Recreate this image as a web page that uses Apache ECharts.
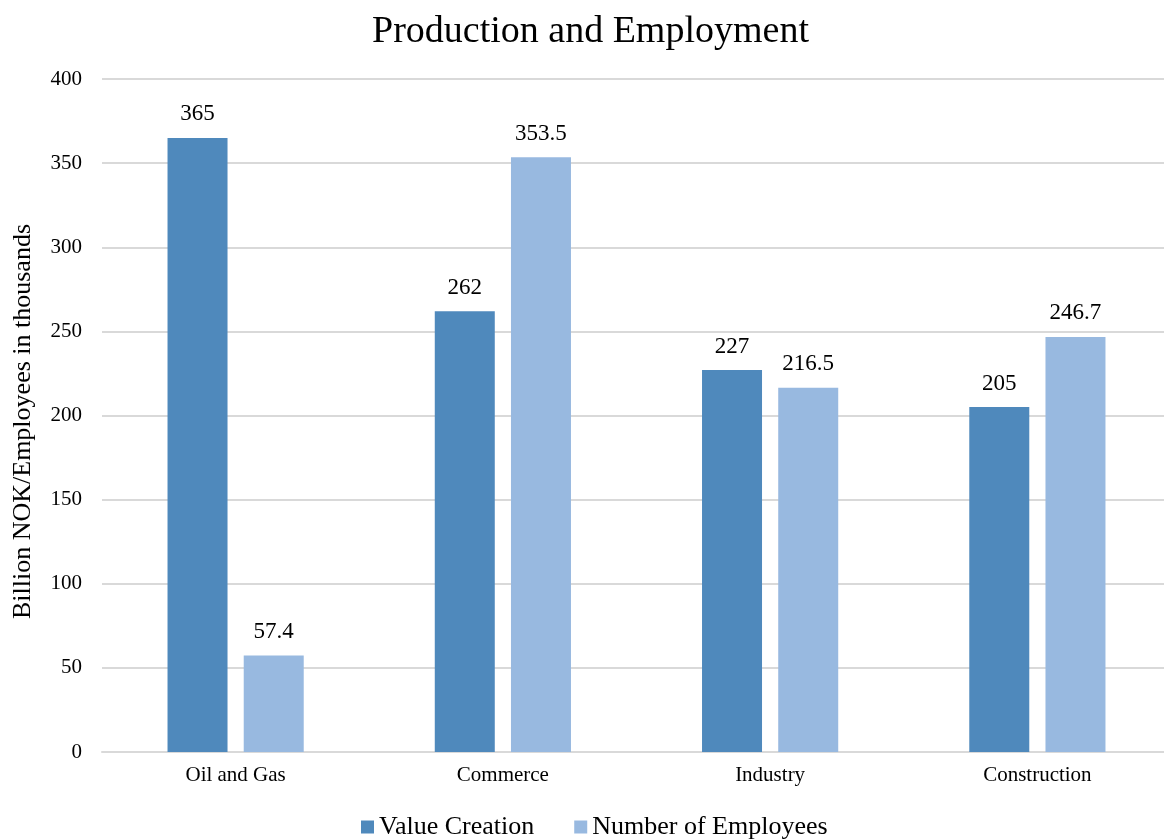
<!DOCTYPE html>
<html>
<head>
<meta charset="utf-8">
<script src="https://cdn.jsdelivr.net/npm/echarts@6/dist/echarts.min.js"></script>
<style>html,body{margin:0;padding:0;background:#fff}#c{width:1164px;height:840px}</style>
</head>
<body>
<div id="c"></div>
<script>
const categories = ['Oil and Gas', 'Commerce', 'Industry', 'Construction'];
const valueCreation = [365, 262, 227, 205];
const employees = [57.4, 353.5, 216.5, 246.7];
const yTicks = [0, 50, 100, 150, 200, 250, 300, 350, 400];

const font = 'Liberation Serif, Times New Roman, serif';
const chart = echarts.init(document.getElementById('c'));
chart.setOption({
  animation: false,
  backgroundColor: '#fff',
  textStyle: { fontFamily: font },
  title: {
    text: 'Production and Employment',
    left: 372,
    top: 13,
    padding: 0,
    textStyle: { fontFamily: font, fontSize: 38, fontWeight: 'normal', color: '#000' }
  },
  legend: {
    bottom: -5,
    left: 356,
    itemWidth: 13,
    itemHeight: 13,
    itemGap: 40,
    icon: 'rect',
    textStyle: { fontFamily: font, fontSize: 26, color: '#000', padding: [0, 0, 0, 0] },
    data: ['Value Creation', 'Number of Employees']
  },
  grid: { left: 102, right: -7, top: 79, bottom: 88, containLabel: false, outerBoundsMode: 'none' },
  xAxis: {
    type: 'category',
    data: categories,
    axisTick: { show: false },
    axisLine: { show: true, lineStyle: { color: '#d9d9d9', width: 2 } },
    axisLabel: { fontFamily: font, fontSize: 21, color: '#000', margin: 13 }
  },
  yAxis: {
    type: 'value',
    min: yTicks[0],
    max: yTicks[yTicks.length - 1],
    interval: 50,
    name: 'Billion NOK/Employees in thousands',
    nameLocation: 'middle',
    nameGap: 66,
    nameTextStyle: { fontFamily: font, fontSize: 26, color: '#000', padding: [0, 12, 0, 0] },
    axisLine: { show: false },
    axisTick: { show: false },
    splitLine: { lineStyle: { color: '#d9d9d9', width: 2 } },
    axisLabel: { fontFamily: font, fontSize: 21, color: '#000', margin: 20 }
  },
  series: [
    {
      name: 'Value Creation',
      type: 'bar',
      data: valueCreation,
      barWidth: 60,
      barGap: '27%',
      itemStyle: { color: '#4f89bc' },
      label: { show: true, position: 'top', distance: 12, fontFamily: font, fontSize: 23, color: '#000' }
    },
    {
      name: 'Number of Employees',
      type: 'bar',
      data: employees,
      barWidth: 60,
      itemStyle: { color: '#98b9e0' },
      label: { show: true, position: 'top', distance: 12, fontFamily: font, fontSize: 23, color: '#000' }
    }
  ]
});
</script>
</body>
</html>
